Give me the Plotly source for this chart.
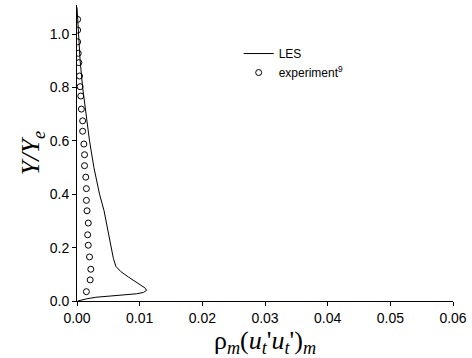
import plotly.graph_objects as go

# LES curve (x = rho_m(u't u't)_m, y = Y/Ye)
les_x = [0.0000, 0.0001, 0.0003, 0.0005, 0.0009, 0.0014, 0.0020, 0.0027, 0.0031, 0.0036,
         0.0043, 0.0048, 0.0051, 0.0054, 0.0058, 0.0062, 0.0070, 0.0082, 0.0092, 0.0103,
         0.0109, 0.0111, 0.0106, 0.0095, 0.0070, 0.0045, 0.0030, 0.0015, 0.0001]
les_y = [1.10, 1.05, 1.00, 0.90, 0.80, 0.70, 0.60, 0.50, 0.45, 0.40,
         0.34, 0.28, 0.24, 0.20, 0.16, 0.13, 0.11, 0.09, 0.075, 0.06,
         0.048, 0.040, 0.032, 0.027, 0.022, 0.019, 0.014, 0.008, 0.0]

# Experiment points
exp_x = [0.0001, 0.0001, 0.0001, 0.0002, 0.0003, 0.0004, 0.0005, 0.0006, 0.0007, 0.0009,
         0.0009, 0.0011, 0.0012, 0.0012, 0.0014, 0.0015, 0.0015, 0.0016, 0.0018, 0.0017,
         0.0018, 0.0020, 0.0022, 0.0021, 0.0015]
exp_y = [1.055, 1.015, 0.971, 0.928, 0.893, 0.843, 0.803, 0.768, 0.719, 0.675,
         0.636, 0.588, 0.548, 0.507, 0.464, 0.421, 0.377, 0.338, 0.292, 0.248,
         0.209, 0.165, 0.119, 0.079, 0.035]

x_ticks = [0.00, 0.01, 0.02, 0.03, 0.04, 0.05, 0.06]
y_ticks = [0.0, 0.2, 0.4, 0.6, 0.8, 1.0]

fig = go.Figure()
fig.add_trace(go.Scatter(x=les_x, y=les_y, mode="lines", name="LES",
                         line=dict(color="black", width=1)))
fig.add_trace(go.Scatter(x=exp_x, y=exp_y, mode="markers", name="experiment<sup>9</sup>",
                         marker=dict(symbol="circle-open", size=6, color="black",
                                     line=dict(width=1, color="black"))))

fig.update_layout(
    width=472, height=358,
    margin=dict(l=77, r=16, t=5, b=57),
    paper_bgcolor="white", plot_bgcolor="white",
    font=dict(family="Liberation Sans, Arial, sans-serif", size=12, color="black"),
    showlegend=True,
    legend=dict(x=0.43, y=0.885, xanchor="left", yanchor="top",
                bgcolor="rgba(0,0,0,0)", font=dict(size=12),
                tracegroupgap=0, itemwidth=30),
)
fig.update_xaxes(range=[0, 0.06], tickvals=x_ticks, ticktext=[f"{v:.2f}" for v in x_ticks],
                 tickfont=dict(size=14),
                 showgrid=False, zeroline=False, showline=True, linecolor="black", linewidth=1,
                 ticks="outside", ticklen=4, tickcolor="black",
                 title=dict(text="ρ<sub><i>m</i></sub>(<i>u</i><sub><i>t</i></sub>'<i>u</i><sub><i>t</i></sub>')<sub><i>m</i></sub>",
                            font=dict(family="Liberation Serif, Times New Roman, serif", size=26),
                            standoff=0))
fig.update_yaxes(range=[0, 1.109], tickvals=y_ticks, ticktext=[f"{v:.1f}" for v in y_ticks],
                 tickfont=dict(size=14),
                 showgrid=False, zeroline=False, showline=True, linecolor="black", linewidth=1,
                 ticks="outside", ticklen=4, tickcolor="black",
                 title=dict(text="<i>Y/Y<sub>e</sub></i>",
                            font=dict(family="Liberation Serif, Times New Roman, serif", size=26),
                            standoff=2))

fig.write_html("out.html")
